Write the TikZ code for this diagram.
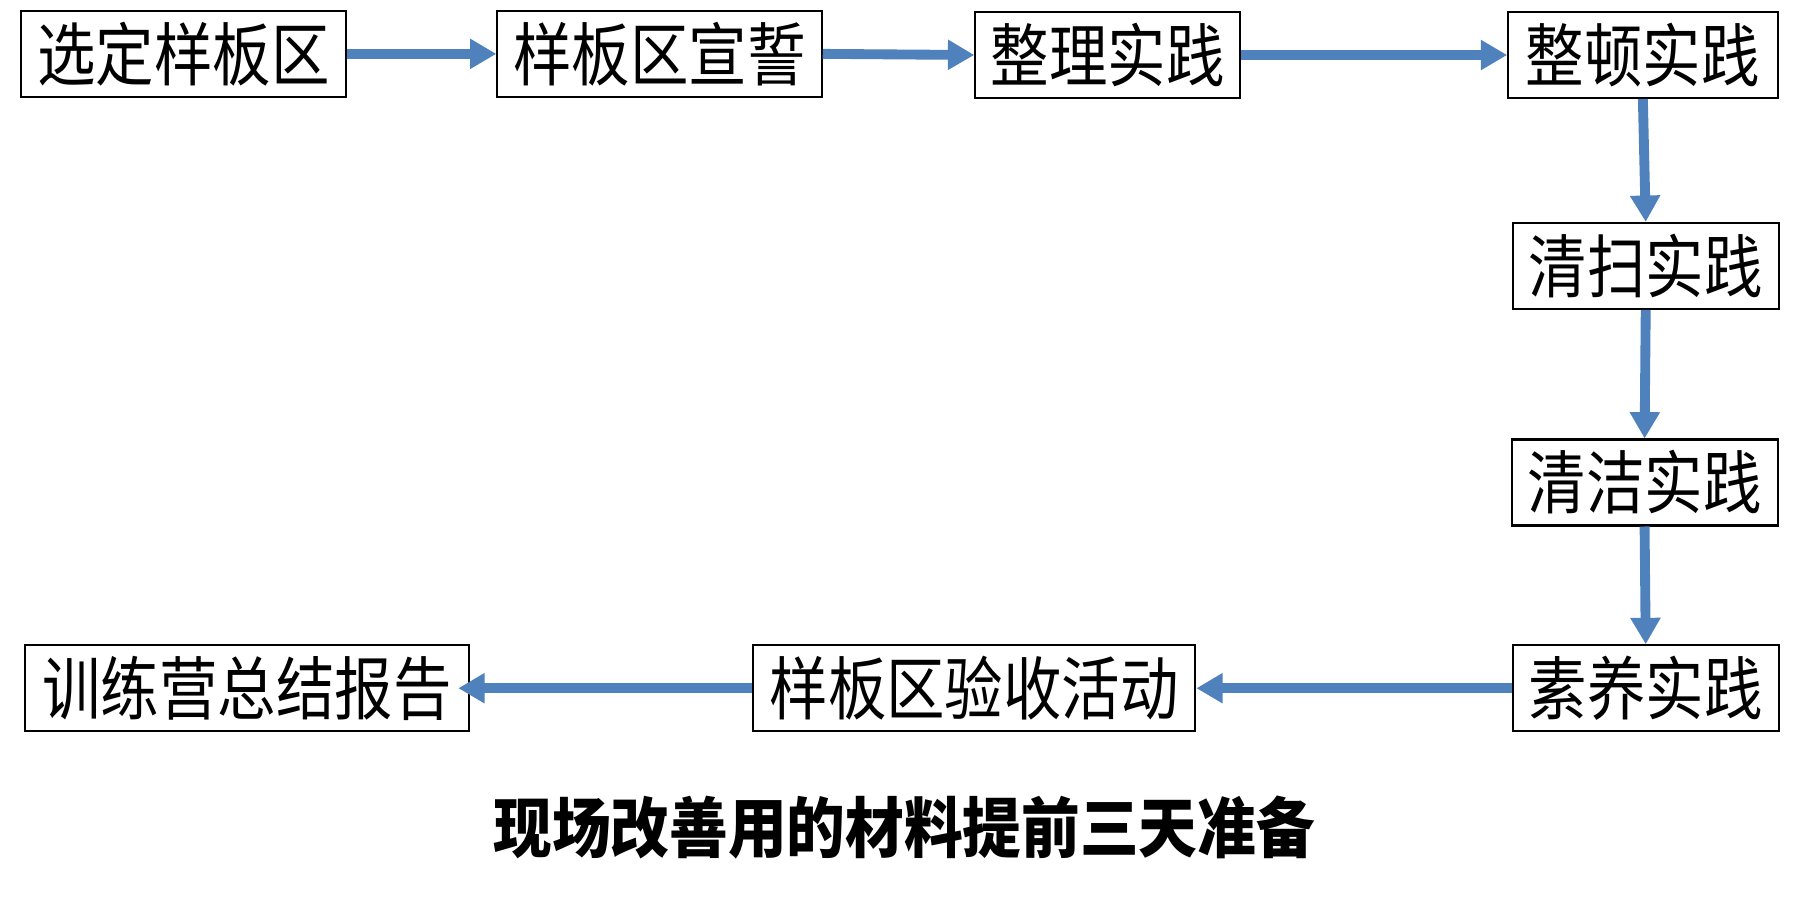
\documentclass[tikz,border=0pt]{standalone}
\usepackage{fontspec}
\usepackage{graphicx}
\newfontfamily\cjk{Noto Sans CJK SC}
\usetikzlibrary{arrows.meta}
\definecolor{arrowblue}{RGB}{79,129,189}
\newcommand\vstretch[1]{\scalebox{1}[1.18]{#1}}
\newcommand\tstretch[1]{\scalebox{1}[1.12]{#1}}
\tikzset{
  box/.style={draw=black, line width=0.9pt, fill=white, inner sep=0pt,
    minimum height=37.5pt, font=\cjk\fontsize{25.5pt}{28pt}\selectfont},
  flow/.style={draw=arrowblue, line width=4.3pt, -{Triangle[length=11.5pt,width=12.5pt]}},
  titletext/.style={inner sep=0pt, font=\cjk\bfseries\fontsize{25.6pt}{30pt}\selectfont}
}
\begin{document}
\begin{tikzpicture}[x=0.5pt,y=-0.5pt]
\useasboundingbox[fill=white] (0,0) rectangle (1568,782);
\node[box, minimum width=142pt]   (b1) at (160,47)    {\vstretch{选定样板区}};
\node[box, minimum width=141.5pt] (b2) at (575.5,47)  {\vstretch{样板区宣誓}};
\node[box, minimum width=115.5pt] (b3) at (966.5,48)  {\vstretch{整理实践}};
\node[box, minimum width=117.5pt] (b4) at (1433.5,48) {\vstretch{整顿实践}};
\node[box, minimum width=116pt]   (b5) at (1436,232)  {\vstretch{清扫实践}};
\node[box, minimum width=116pt]   (b6) at (1435,421)  {\vstretch{清洁实践}};
\node[box, minimum width=116pt]   (b7) at (1436,600.5) {\vstretch{素养实践}};
\node[box, minimum width=193pt]   (b8) at (850,600.5) {\vstretch{样板区验收活动}};
\node[box, minimum width=193.5pt] (b9) at (215.5,600.5) {\vstretch{训练营总结报告}};
\node[titletext] (t) at (789,722) {\tstretch{现场改善用的材料提前三天准备}};
\draw[flow] (b1.east) -- (b2.west);
\draw[flow] (b2.east) -- (b3.west);
\draw[flow] (b3.east) -- (b4.west);
\draw[flow] (b4.south) -- (b5.north);
\draw[flow] (b5.south) -- (b6.north);
\draw[flow] (b6.south) -- (b7.north);
\draw[flow] (b7.west) -- (b8.east);
\draw[flow] (b8.west) -- ([xshift=-5pt]b9.east);
\end{tikzpicture}
\end{document}
